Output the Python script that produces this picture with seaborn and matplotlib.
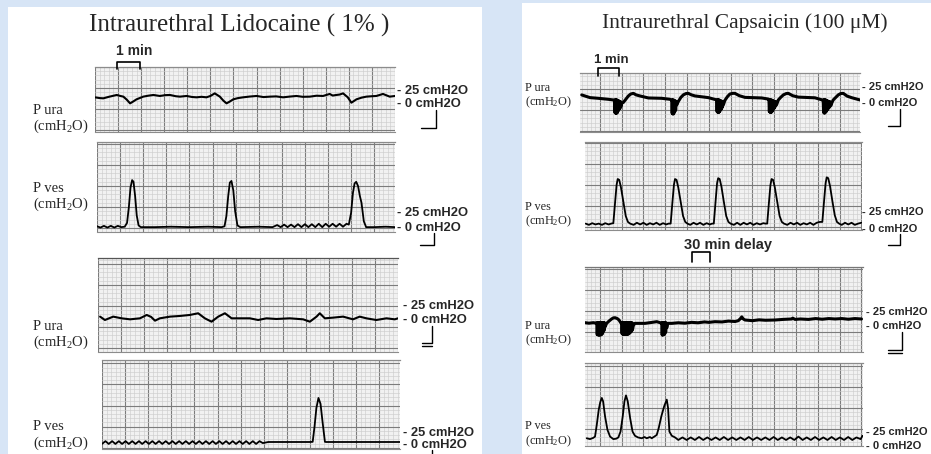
import numpy as np
import pandas as pd
import matplotlib
matplotlib.use("Agg")
import matplotlib.pyplot as plt
from matplotlib.lines import Line2D
from matplotlib.patches import Rectangle
from matplotlib.ticker import MultipleLocator
import seaborn as sns

W, H = 931, 454

# ---------------- data (time in min, pressure in cmH2O) ----------------
lido_ura_a = [(0.00, 13.9), (0.20, 13.0), (0.36, 12.7), (0.60, 14.5), (0.94, 16.7), (1.10, 15.5),
              (1.23, 14.7), (1.38, 11.0), (1.52, 6.7), (1.66, 9.0), (1.80, 11.5), (2.09, 14.7),
              (2.30, 15.8), (2.53, 16.7), (2.81, 15.5), (3.05, 16.5), (3.25, 16.7), (3.50, 15.2),
              (3.68, 14.7), (3.97, 15.5), (4.20, 14.3), (4.40, 13.9), (4.62, 14.5), (4.83, 13.9),
              (5.00, 15.5), (5.19, 18.6), (5.41, 14.7), (5.56, 10.0), (5.70, 6.7), (5.85, 9.0),
              (5.99, 11.5), (6.20, 13.0), (6.42, 13.9), (6.70, 14.8), (7.00, 15.5), (7.30, 14.2),
              (7.58, 14.7), (7.85, 15.0), (8.15, 13.9), (8.45, 14.8), (8.73, 15.5), (9.00, 14.5),
              (9.31, 14.7), (9.60, 15.8), (9.88, 15.5), (10.17, 17.9), (10.30, 16.0), (10.46, 16.7),
              (10.60, 17.2), (10.75, 18.6), (10.95, 14.0), (11.11, 7.5), (11.22, 9.5), (11.33, 11.5),
              (11.55, 13.5), (11.76, 14.7), (12.00, 15.2), (12.19, 15.5), (12.48, 17.9), (12.77, 14.7),
              (13.00, 15.5)]

lido_ves_a = [(0.00, 2), (0.15, 0.5), (0.30, 2.5), (0.45, 0.5), (0.60, 2.5), (0.75, 0.5), (0.90, 2.5),
              (1.05, 1), (1.20, 1.5), (1.30, 6), (1.38, 25), (1.45, 48), (1.52, 57), (1.58, 55),
              (1.65, 38), (1.72, 15), (1.80, 3), (1.90, 1), (2.50, 1), (3.20, 1.5), (4.00, 1),
              (4.80, 1.5), (5.40, 1), (5.52, 2), (5.60, 14), (5.68, 38), (5.75, 54), (5.82, 56),
              (5.90, 45), (5.98, 20), (6.08, 3), (6.20, 1), (7.00, 1.5), (7.60, 1), (7.80, 3.5),
              (7.95, 1), (8.10, 4), (8.25, 1), (8.40, 4), (8.55, 1), (8.70, 4.5), (8.85, 1),
              (9.00, 4.5), (9.15, 1), (9.30, 4.5), (9.45, 1), (9.60, 5), (9.75, 1), (9.90, 5),
              (10.05, 1.5), (10.20, 5), (10.35, 1.5), (10.50, 5), (10.65, 1.5), (10.80, 5),
              (10.90, 4), (11.00, 18), (11.08, 42), (11.15, 53), (11.22, 55), (11.30, 50),
              (11.38, 38), (11.45, 30), (11.55, 8), (11.65, 1), (12.00, 1), (12.50, 1.5), (12.90, 1)]

lido_ura_b = [(0.09, 12.3), (0.30, 8.3), (0.66, 12.3), (1.02, 10.3), (1.39, 9.1), (1.82, 10.3),
              (2.11, 14.3), (2.30, 12.0), (2.47, 7.5), (2.68, 10.3), (3.12, 12.3), (3.55, 13.1),
              (3.98, 14.3), (4.34, 16.3), (4.63, 10.3), (4.92, 6.3), (5.21, 12.3), (5.50, 16.3),
              (5.79, 10.3), (6.15, 10.3), (6.58, 10.3), (6.94, 8.3), (7.30, 10.3), (7.73, 9.5),
              (8.31, 10.3), (8.89, 9.1), (9.18, 6.3), (9.47, 12.3), (9.61, 16.3), (9.83, 10.3),
              (10.19, 11.1), (10.62, 12.3), (11.05, 9.1), (11.34, 12.3), (11.63, 10.3), (12.06, 8.3),
              (12.50, 10.3), (12.86, 9.1), (13.00, 10.3)]

lido_ves_b = [(0.00, 4.5), (0.15, 7.8), (0.29, 4.5), (0.44, 7.8), (0.58, 4.5), (0.73, 7.8), (0.87, 4.5),
              (1.02, 7.8), (1.16, 4.5), (1.31, 7.8), (1.45, 4.5), (1.60, 7.8), (1.74, 4.5), (1.89, 7.8),
              (2.03, 4.5), (2.18, 7.8), (2.32, 4.5), (2.47, 7.8), (2.61, 4.5), (2.76, 7.8), (2.90, 4.5),
              (3.05, 7.8), (3.19, 4.5), (3.34, 7.8), (3.48, 4.5), (3.63, 7.8), (3.77, 4.5), (3.92, 7.8),
              (4.06, 4.5), (4.21, 7.8), (4.35, 4.5), (4.50, 7.8), (4.64, 4.5), (4.79, 7.8), (4.93, 4.5),
              (5.08, 7.8), (5.22, 4.5), (5.37, 7.8), (5.51, 4.5), (5.66, 7.8), (5.80, 4.5), (5.95, 7.8),
              (6.09, 4.5), (6.24, 7.8), (6.38, 4.5), (6.53, 7.8), (6.67, 4.5), (6.82, 7.8), (6.96, 5.5),
              (7.20, 6.8), (8.00, 6.8), (9.00, 6.8), (9.12, 7.0), (9.20, 25), (9.28, 47), (9.37, 59),
              (9.46, 52), (9.55, 30), (9.65, 7), (9.70, 6.8), (11.00, 6.8), (12.00, 6.8), (12.90, 6.8)]

caps_ura_a = [(0.17, 17.9), (0.55, 14.7), (0.93, 13.9), (1.39, 12.7), (1.60, 12.0),
              (1.67, 11.9), (1.69, -3), (1.71, 12), (1.73, -4), (1.75, 12), (1.77, -4), (1.79, 12),
              (1.81, -3), (1.83, 11), (1.85, -1), (1.87, 11), (1.89, 1), (1.91, 10), (1.93, 2),
              (1.95, 10), (1.97, 4), (2.00, 8),
              (2.08, 9), (2.20, 13), (2.31, 16.7), (2.42, 19), (2.54, 19.8), (2.66, 18), (2.84, 16.7),
              (3.23, 14.3), (3.84, 13.9), (4.22, 12.7), (4.28, 12),
              (4.30, 12), (4.32, -4), (4.34, 12), (4.36, -5), (4.38, 12), (4.40, -4), (4.42, 11),
              (4.44, -2), (4.46, 11), (4.48, 0), (4.50, 10), (4.53, 6),
              (4.60, 10), (4.72, 15), (4.83, 17.9), (4.95, 19.5), (5.06, 19.8), (5.20, 18), (5.37, 16.7),
              (5.98, 14.7), (6.30, 12.5),
              (6.36, 12), (6.38, -2), (6.40, 12), (6.42, -3), (6.44, 12), (6.46, -3), (6.48, 12),
              (6.50, -2), (6.52, 11), (6.54, 0), (6.56, 11), (6.58, 1), (6.60, 10), (6.62, 3),
              (6.64, 10), (6.67, 6),
              (6.74, 11.5), (6.86, 16), (6.97, 19), (7.10, 19.8), (7.20, 19.8), (7.40, 17), (7.66, 15),
              (8.43, 14.3), (8.73, 13.0),
              (8.76, 12.5), (8.78, -2), (8.80, 12), (8.82, -3), (8.84, 12), (8.86, -3), (8.88, 12),
              (8.90, -2), (8.92, 11), (8.94, 0), (8.96, 11), (8.98, 1), (9.00, 10), (9.03, 3),
              (9.06, 10), (9.11, 6),
              (9.19, 11.9), (9.30, 15), (9.42, 17.9), (9.55, 19.5), (9.65, 19.8), (9.85, 17), (10.11, 15.3),
              (10.87, 14.5), (11.20, 12.0),
              (11.25, 12), (11.27, -3), (11.29, 12), (11.31, -4), (11.33, 12), (11.35, -3), (11.37, 12),
              (11.39, -2), (11.41, 11), (11.43, 0), (11.45, 11), (11.47, 1), (11.50, 10), (11.53, 3),
              (11.56, 10), (11.60, 5), (11.64, 8),
              (11.71, 11.9), (11.83, 15), (11.94, 17.9), (12.05, 19.5), (12.17, 19.8), (12.35, 16.5),
              (12.55, 14.7), (12.94, 11.9)]

caps_ves_a = [(0.35, 4), (0.50, 2.5), (0.65, 4.5), (0.80, 3), (0.95, 4), (1.10, 2.5), (1.25, 4.5),
              (1.40, 3), (1.52, 4),
              (1.62, 4.5), (1.70, 29), (1.77, 50), (1.82, 57), (1.89, 56), (1.97, 47), (2.08, 30),
              (2.19, 13), (2.29, 6), (2.39, 4),
              (2.55, 2.5), (2.70, 5), (2.85, 3), (3.00, 5), (3.15, 2.5), (3.30, 4.5), (3.45, 3),
              (3.60, 5), (3.75, 2.5), (3.90, 4.5), (4.05, 3), (4.15, 4),
              (4.25, 4), (4.33, 29), (4.40, 50), (4.45, 57), (4.52, 56), (4.60, 47), (4.71, 30),
              (4.82, 13), (4.92, 6), (5.02, 4),
              (5.15, 2.5), (5.30, 5), (5.45, 3), (5.60, 5), (5.75, 2.5), (5.90, 4.5), (6.05, 3), (6.15, 4),
              (6.23, 4), (6.31, 30), (6.38, 52), (6.43, 58), (6.50, 57), (6.58, 48), (6.69, 30),
              (6.80, 13), (6.90, 6), (7.00, 4),
              (7.15, 2.5), (7.30, 5), (7.45, 2.5), (7.60, 5), (7.75, 3), (7.90, 5), (8.05, 2.5),
              (8.20, 4.5), (8.35, 3), (8.50, 4.5), (8.60, 4),
              (8.68, 4), (8.76, 29), (8.83, 50), (8.88, 57), (8.95, 56), (9.03, 47), (9.14, 30),
              (9.25, 13), (9.35, 6), (9.45, 4),
              (9.60, 2.5), (9.75, 5), (9.90, 3), (10.05, 5), (10.20, 2.5), (10.35, 4.5), (10.50, 3),
              (10.65, 5), (10.80, 2.5), (10.95, 5), (11.10, 6),
              (11.21, 6), (11.29, 31), (11.36, 52), (11.41, 59), (11.48, 58), (11.56, 49), (11.67, 31),
              (11.78, 14), (11.88, 6), (11.98, 4),
              (12.10, 2.5), (12.25, 5), (12.40, 3), (12.55, 5), (12.70, 2.5), (12.85, 4), (13.00, 5)]

caps_ura_b = [(0.32, 11.1), (0.50, 10.5), (0.70, 11.1), (0.84, 10.5),
              (0.86, 11), (0.88, -3), (0.90, 11), (0.92, -3.6), (0.94, 11), (0.96, -3.6), (0.98, 11),
              (1.00, -3.6), (1.02, 11), (1.04, -3.6), (1.06, 11), (1.08, -3), (1.10, 11), (1.12, -2),
              (1.14, 11), (1.16, 0), (1.18, 11), (1.20, 2), (1.22, 11), (1.24, 6),
              (1.31, 10.3), (1.42, 13), (1.54, 15.5), (1.62, 16.8), (1.70, 17), (1.80, 16), (1.88, 14.3),
              (1.96, 11),
              (2.00, 11), (2.02, -2), (2.04, 11), (2.06, -2.8), (2.08, 11), (2.10, -2.8), (2.12, 11),
              (2.14, -2.8), (2.16, 11), (2.18, -2.8), (2.20, 11), (2.22, -2.8), (2.24, 11), (2.26, -2.8),
              (2.28, 11), (2.30, -2.5), (2.32, 11), (2.34, -2), (2.36, 11), (2.38, -1), (2.40, 11),
              (2.42, 0), (2.44, 11), (2.46, 1), (2.48, 11), (2.50, 3), (2.54, 8),
              (2.61, 10.3), (3.07, 10.3), (3.40, 11.5), (3.61, 12.3), (3.78, 11),
              (3.84, 11), (3.86, -3.6), (3.88, 11), (3.90, -3.6), (3.92, 11), (3.94, -3), (3.96, 11),
              (3.98, -2), (4.00, 11), (4.02, 0), (4.04, 11), (4.07, 5),
              (4.12, 10.3), (4.30, 10.3), (4.60, 11), (4.90, 10.5), (5.21, 11.5), (5.50, 11),
              (5.80, 12), (6.00, 11.5), (6.28, 12.3), (6.60, 12), (6.90, 13), (7.20, 12.5), (7.35, 13.5),
              (7.45, 16), (7.51, 18), (7.58, 15.5), (7.66, 14.3), (8.00, 13.5), (8.30, 14.5), (8.60, 14),
              (9.04, 14.3), (9.40, 15), (9.80, 15.5), (9.85, 16.5), (9.95, 15), (10.20, 15.5),
              (10.57, 15), (10.90, 16), (11.20, 15.2), (11.50, 16), (11.79, 15.5), (12.10, 16),
              (12.40, 15.2), (12.70, 16), (13.00, 15.5)]

caps_ves_b = [(0.40, 14), (0.55, 13), (0.70, 14.5), (0.78, 16), (0.86, 30), (0.95, 48), (1.02, 57),
              (1.09, 62), (1.15, 58), (1.24, 40), (1.35, 24), (1.47, 16), (1.62, 13), (1.75, 13.5),
              (1.85, 15), (1.95, 22), (2.05, 40), (2.13, 58), (2.20, 65), (2.28, 58), (2.39, 38),
              (2.50, 22), (2.61, 17), (2.75, 15), (2.92, 14), (3.05, 15.5), (3.15, 14), (3.30, 15.5),
              (3.38, 14), (3.50, 16), (3.61, 18), (3.70, 26), (3.82, 40), (3.95, 52), (4.07, 60),
              (4.13, 50), (4.19, 22), (4.30, 17), (4.45, 15),
              (4.60, 12), (4.79, 15), (4.98, 12), (5.17, 15), (5.36, 12), (5.55, 15.5), (5.74, 12),
              (5.93, 15), (6.12, 12), (6.31, 15), (6.50, 12), (6.69, 15.5), (6.88, 12), (7.07, 15),
              (7.26, 12), (7.45, 15), (7.64, 12), (7.83, 15.5), (8.02, 12), (8.21, 15), (8.40, 12),
              (8.59, 15), (8.78, 12), (8.97, 15.5), (9.16, 12), (9.35, 15), (9.54, 12), (9.73, 15),
              (9.92, 12), (10.11, 16), (10.30, 12), (10.49, 15), (10.68, 12), (10.87, 15.5), (11.06, 12),
              (11.25, 15), (11.44, 12), (11.63, 15.5), (11.82, 12), (12.01, 15), (12.20, 12),
              (12.39, 15.5), (12.58, 12), (12.77, 15), (12.96, 13), (13.05, 17)]

left_title = "Intraurethral Lidocaine ( 1% )"
right_title = "Intraurethral Capsaicin (100 \u03bcM)"
row_labels = ["P ura", "P ves"]
unit_label = r"(cm$\mathregular{H_2O}$)"
scale_labels = ["- 25 cmH2O", "- 0 cmH2O"]

# ---------------- style ----------------
sns.set_style("white")
plt.rcParams['font.family'] = ['Liberation Serif', 'DejaVu Serif']
plt.rcParams['mathtext.fontset'] = 'custom'
plt.rcParams['mathtext.rm'] = 'Liberation Serif'

fig = plt.figure(figsize=(W / 100, H / 100), dpi=100)
fig.patch.set_facecolor('#d7e5f6')


def fx(x):
    return x / W


def fy(y):
    return 1 - y / H


def panel(x0, y0, x1, y1):
    fig.add_artist(Rectangle((fx(x0), fy(y1)), (x1 - x0) / W, (y1 - y0) / H,
                             transform=fig.transFigure, facecolor='white',
                             edgecolor='none', zorder=-5))


panel(8, 7, 482, 460)
panel(522, 3, 935, 460)


def strip(rect, data, xlim, ylim, lw, top_color='#8c8c8c'):
    x0, y0, x1, y1 = rect
    ax = fig.add_axes([fx(x0), fy(y1), (x1 - x0) / W, (y1 - y0) / H])
    ax.set_facecolor('#f1f1f1')
    ax.set_xlim(*xlim)
    ax.set_ylim(*ylim)
    ax.xaxis.set_major_locator(MultipleLocator(1))
    ax.xaxis.set_minor_locator(MultipleLocator(0.2))
    ax.yaxis.set_major_locator(MultipleLocator(25))
    ax.yaxis.set_minor_locator(MultipleLocator(5))
    ax.grid(which='minor', color='#cdcdcd', lw=0.45)
    ax.grid(which='major', color='#7c7c7c', lw=0.8)
    ax.set_axisbelow(True)
    ax.tick_params(which='both', length=0, labelbottom=False, labelleft=False)
    for s in ['left', 'right']:
        ax.spines[s].set_visible(False)
    ax.spines['bottom'].set_color('#8c8c8c')
    ax.spines['bottom'].set_linewidth(0.8)
    ax.spines['top'].set_color(top_color)
    ax.spines['top'].set_linewidth(0.9)
    df = pd.DataFrame(data, columns=['t', 'p'])
    sns.lineplot(data=df, x='t', y='p', ax=ax, color='black', lw=lw,
                 estimator=None, sort=False)
    ax.set_xlabel('')
    ax.set_ylabel('')
    return ax


# left panel strips
strip((95, 67, 395, 132), lido_ura_a, (0, 13.0), (-27.4, 50), 1.5)
strip((97, 142, 395, 232), lido_ves_a, (0, 12.9), (-4.8, 102.4), 1.3)
strip((98, 258, 398, 352), lido_ura_b, (0, 13.0), (-29.8, 82.1), 1.5, top_color='#555555')
strip((102, 360, 400, 449), lido_ves_b, (0, 12.9), (-1.5, 104), 1.3)

# right panel strips
strip((580, 73, 860, 132), caps_ura_a, (0.09, 12.94), (-26.2, 44), 2.2)
strip((585, 142, 862, 230), caps_ves_a, (0.32, 13.03), (-3.6, 101), 1.3)
strip((585, 267, 863, 352), caps_ura_b, (0.32, 13.07), (-23.8, 77.4), 2.2, top_color='#777777')
strip((585, 363, 863, 446), caps_ves_b, (0.32, 13.07), (4.8, 103.6), 1.3)

# ---------------- texts ----------------
fig.text(fx(239), fy(32), left_title, ha='center', va='baseline', fontsize=18,
         family='Liberation Serif')
fig.text(fx(745), fy(28), right_title, ha='center', va='baseline', fontsize=15.5,
         family='Liberation Serif')


def sans(x, y, s, size, ha='left'):
    fig.text(fx(x), fy(y), s, ha=ha, va='center', fontsize=size,
             family='Liberation Sans', weight='bold')


def line(xs, ys, lw=1.2):
    fig.add_artist(Line2D([fx(v) for v in xs], [fy(v) for v in ys], color='black',
                          lw=lw, transform=fig.transFigure))


# timing brackets
sans(134, 51, "1 min", 10, ha='center')
line([117, 117, 140, 140], [69, 62, 62, 69])
sans(611, 60, "1 min", 9.5, ha='center')
line([598, 598, 619, 619], [76, 68, 68, 76])
sans(728, 245, "30 min delay", 10.5, ha='center')
line([692, 692, 710, 710], [262, 252, 252, 262])

# row labels
for (x, y1, y2, lab, size) in [(33, 111, 126, row_labels[0], 10.5), (33, 189, 204, row_labels[1], 10.5),
                                (33, 327, 342, row_labels[0], 10.5), (33, 427, 443, row_labels[1], 10.5),
                                (525, 88, 102, row_labels[0], 8.8), (525, 207, 221, row_labels[1], 8.8),
                                (525, 326, 340, row_labels[0], 8.8), (525, 426, 441, row_labels[1], 8.8)]:
    fig.text(fx(x), fy(y1), lab, ha='left', va='center', fontsize=size, family='Liberation Serif')
    fig.text(fx(x), fy(y2), unit_label, ha='left', va='center', fontsize=size, family='Liberation Serif')

# pressure scale labels
for (x, y25, y0, size) in [(397, 91, 104, 9.3), (397, 213, 228, 9.3), (403, 306, 320, 9.3),
                           (403, 433, 445, 9.3), (862, 87, 103, 8.0), (862, 212, 229, 8.0),
                           (866, 312, 326, 8.0), (866, 432, 446, 8.0)]:
    sans(x, y25, scale_labels[0], size)
    sans(x, y0, scale_labels[1], size)

# scale marks under "0 cmH2O"
line([421, 436, 436], [128, 128, 110], lw=1.0)
line([420, 434, 434], [245, 245, 233], lw=1.0)
line([422, 432, 432], [343, 343, 326], lw=1.0)
line([422, 432], [346, 346], lw=1.0)
line([432, 432], [450, 456], lw=1.0)
line([888, 900, 900], [126, 126, 109], lw=1.0)
line([888, 900, 900], [245, 245, 234], lw=1.0)
line([888, 902, 902], [350, 350, 332], lw=1.0)
line([888, 902], [353, 353], lw=1.0)

fig.savefig("out.png", dpi=100, facecolor=fig.get_facecolor())
